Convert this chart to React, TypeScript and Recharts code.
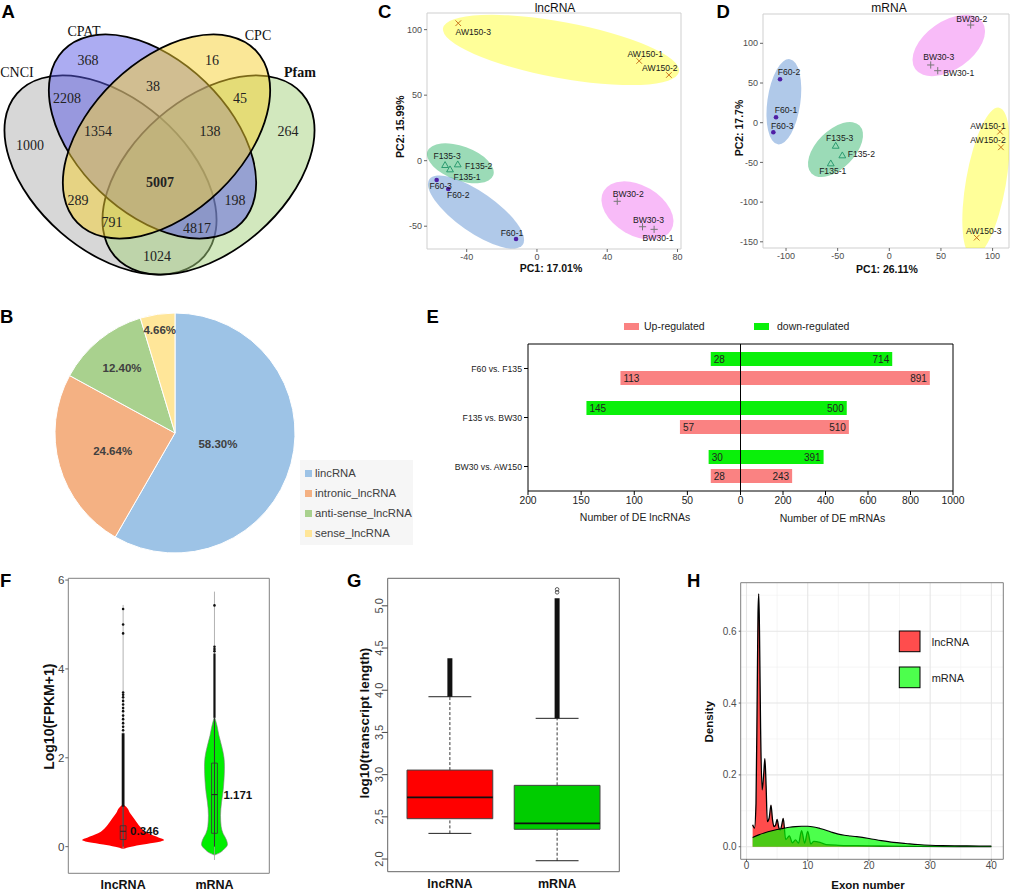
import React from 'react';
import {
  ScatterChart, Scatter, XAxis, YAxis, PieChart, Pie, Cell, Legend,
  BarChart, Bar, LabelList, ReferenceArea, ReferenceLine, ComposedChart, Area, Line, CartesianGrid,
} from 'recharts';

const SANS = '"Liberation Sans", Arial, Helvetica, sans-serif';
const SERIF = '"Liberation Serif", "Times New Roman", serif';

// ============================================================================
// Data
// ============================================================================

// A. Venn of coding-potential tools
const VENN_SETS = ['CNCI', 'CPAT', 'CPC', 'Pfam'];
const VENN_REGIONS = [
  'CPAT', 'CPC', 'CNCI&CPAT', 'CPAT&CPC', 'CPC&Pfam', 'CNCI', 'CNCI&CPAT&CPC', 'CPAT&CPC&Pfam',
  'Pfam', 'all', 'CNCI&CPC', 'CPAT&Pfam', 'CNCI&CPC&Pfam', 'CNCI&CPAT&Pfam', 'CNCI&Pfam',
];
const VENN_COUNTS = [368, 16, 2208, 38, 45, 1000, 1354, 138, 264, 5007, 289, 198, 791, 4817, 1024];

// B. lncRNA classes
const PIE_LABELS = ['lincRNA', 'intronic_lncRNA', 'anti-sense_lncRNA', 'sense_lncRNA'];
const PIE_VALUES = [58.30, 24.64, 12.40, 4.66];

// C / D. PCA
const PCA_GROUPS = ['F60', 'F135', 'BW30', 'AW150'];
const PCA_SAMPLES = ['F60-1', 'F60-2', 'F60-3', 'F135-1', 'F135-2', 'F135-3', 'BW30-1', 'BW30-2', 'BW30-3', 'AW150-1', 'AW150-2', 'AW150-3'];
const LNC_PC1 = [-11.9, -50.5, -57.1, -49.5, -45.1, -52.3, 66.7, 45.7, 60.1, 58.2, 75.1, -44.8];
const LNC_PC2 = [-59.8, -21.6, -14.7, -6.6, -2.8, -3.3, -52.4, -31.0, -50.4, 76.1, 65.4, 104.9];
const MRNA_PC1 = [-109.7, -105.8, -112.3, -56.7, -45.5, -51.9, 46.9, 78.8, 40.1, 107.2, 108.1, 84.6];
const MRNA_PC2 = [6.8, 54.7, -12.1, -51.2, -41.1, -29.0, 65.5, 123.0, 72.7, -11.3, -31.0, -144.8];
// ellipse centres per group (PC units)
const LNC_ELL_PC1 = [-34.7, -43.6, 57.2, 13.7];
const LNC_ELL_PC2 = [-39.2, -2.0, -38.0, 84.5];
const MRNA_ELL_PC1 = [-102.1, -52.1, 57.6, 93.6];
const MRNA_ELL_PC2 = [26.4, -33.8, 97.2, -74.7];

// E. DE counts
const DE_COMPARISONS = ['F60 vs. F135', 'F135 vs. BW30', 'BW30 vs. AW150'];
const DE_LNC_DOWN = [28, 145, 30];
const DE_LNC_UP = [113, 57, 28];
const DE_M_DOWN = [714, 500, 391];
const DE_M_UP = [891, 510, 243];
const LNC_MAX = 200;
const M_MAX = 1000;
const E_LNC_TICKS = [200, 150, 100, 50];
const E_M_TICKS = [0, 200, 400, 600, 800, 1000];

// F. expression violins
const F_CATEGORIES = ['lncRNA', 'mRNA'];
const F_LNC_VIOLIN_V = [-0.05, 0, 0.05, 0.1, 0.15, 0.2, 0.3, 0.45, 0.6, 0.75, 0.9, 0.95];
const F_LNC_VIOLIN_W = [0, 0.088, 0.219, 0.372, 0.449, 0.394, 0.274, 0.186, 0.131, 0.077, 0.033, 0];
const F_M_VIOLIN_V = [-0.19, -0.14, -0.05, 0.05, 0.15, 0.3, 0.45, 0.7, 1.0, 1.2, 1.5, 1.8, 2.0, 2.25, 2.5, 2.7, 2.93];
const F_M_VIOLIN_W = [0, 0.055, 0.109, 0.142, 0.131, 0.093, 0.073, 0.066, 0.077, 0.091, 0.104, 0.109, 0.104, 0.08, 0.049, 0.03, 0];
const F_Q1 = [0.16, 0.3];
const F_Q3 = [0.47, 1.88];
const F_MEDIAN = [0.346, 1.171];
const F_MIN = [-0.05, -0.3];
const F_MAX = [5.44, 5.74];
const F_WHISK_HI = [0.9, 2.9];
const F_OUT_TOP = [2.55, 4.35];
const F_LNC_OUTLIERS = [2.62, 2.7, 2.78, 2.87, 2.95, 3.05, 3.12, 3.2, 3.28, 3.36, 3.42, 3.47, 4.8, 5.0, 5.35];
const F_M_OUTLIERS = [4.4, 4.45, 4.5, 5.43];

// G. transcript length boxplots
const G_CATEGORIES = ['lncRNA', 'mRNA'];
const G_Q1 = [2.478, 2.352];
const G_MEDIAN = [2.731, 2.423];
const G_Q3 = [3.054, 2.873];
const G_WHISK_LO = [2.304, 1.98];
const G_WHISK_HI = [3.923, 3.667];
const G_OUT_TOP = [4.378, 5.09];
const G_M_EXTREMES = [5.16, 5.195];

// H. exon number density
const H_LNC_X = [1, 1.3, 1.55, 1.75, 1.88, 2, 2.12, 2.3, 2.55, 2.8, 3, 3.2, 3.4, 3.7, 4, 4.25, 4.5, 4.75, 5, 5.25, 5.5, 5.75, 6, 6.4, 7, 7.5, 8, 8.5, 9, 9.5, 10, 10.5, 11, 12, 13, 15, 18, 22, 28, 35, 40];
const H_LNC_Y = [0.061, 0.052, 0.12, 0.43, 0.65, 0.704, 0.6, 0.33, 0.158, 0.2, 0.245, 0.17, 0.07, 0.08, 0.116, 0.075, 0.056, 0.06, 0.076, 0.055, 0.046, 0.06, 0.079, 0.02, 0.03, 0.011, 0.019, 0.01, 0.045, 0.01, 0.043, 0.008, 0.015, 0.012, 0.006, 0.004, 0.003, 0.002, 0.001, 0.0005, 0.0003];
const H_M_X = [1, 2, 3, 4, 5, 6, 7, 8, 9, 10, 11, 12, 13, 14, 15, 16, 17, 18, 20, 22, 24, 26, 28, 30, 32, 35, 38, 40];
const H_M_Y = [0.026, 0.033, 0.039, 0.044, 0.048, 0.051, 0.054, 0.056, 0.057, 0.057, 0.055, 0.051, 0.046, 0.04, 0.035, 0.032, 0.03, 0.028, 0.023, 0.017, 0.012, 0.009, 0.006, 0.004, 0.003, 0.0025, 0.002, 0.002];

// ============================================================================
// Layout / style (pixels)
// ============================================================================

// Venn frame is 320x280 px, same units as the chart.
const VENN_ELLIPSES = [
  { cx: 110.5, cy: 175, rx: 124, ry: 76, rot: 41, fill: '#b0b0b0' },
  { cx: 152.5, cy: 136.5, rx: 124, ry: 76, rot: 44, fill: '#5a5ae6' },
  { cx: 166.5, cy: 136.5, rx: 124, ry: 76, rot: -44, fill: '#f5cf30' },
  { cx: 208.5, cy: 175, rx: 124, ry: 76, rot: -41, fill: '#a5d17d' },
];
const VENN_DRAW_ORDER = [0, 3, 1, 2];
const VENN_SET_XY = [[17, 72], [84, 31], [258, 35], [300, 72]];
const VENN_LABEL_XY = [[88, 60], [212, 60], [67, 98], [153, 86], [240, 98], [30, 145], [98, 131], [210, 131], [288, 131], [160, 182], [78, 200], [235, 200], [112, 222], [197, 228], [157, 256]];

const PIE_COLORS = ['#9dc3e6', '#f4b183', '#a9d18e', '#ffe699'];
const PIE_LABEL_RADIUS = [0.37, 0.54, 0.7, 0.87];

const GROUP_MARK = ['#4f1fa5', '#2b9b70', '#777777', '#c8741c'];
const GROUP_FILL = ['#3a78c8', '#22b060', '#ee55ee', '#ffff00'];
const GROUP_FILL_OP = [0.4, 0.45, 0.4, 0.4];
// [rx, ry, rotation] in px
const LNC_ELL_SIZE = [[57, 20, 35], [35, 17, 20], [39, 25, 30], [120, 28, 10.5]];
const MRNA_ELL_SIZE = [[43, 16.5, -82], [34, 19, -45], [41, 24, -35], [75.5, 20, -80]];
const LNC_LABEL_OFF = [[-4, -6], [10, 6], [4, 6], [17, 8], [21, 2], [2, -9], [4, 9], [11, -7], [6, -7], [6, -7], [-9, -7], [15, 9]];
const MRNA_LABEL_OFF = [[10, -7], [9, -7], [9, -6], [2, 8], [19, -1], [4, -8], [21, 2], [1, -6], [8, -8], [-12, -6], [-13, -7], [7, -7]];

const DE_GREEN = '#0af00a';
const DE_PINK = '#fa8282';

// ============================================================================
// A. Venn
// ============================================================================

const vennShapes = VENN_DRAW_ORDER.map((i) => ({ x: VENN_ELLIPSES[i].cx, y: VENN_ELLIPSES[i].cy, i }));
const vennSetLabels = VENN_SETS.map((name, i) => ({ x: VENN_SET_XY[i][0], y: VENN_SET_XY[i][1], name }));
const vennCounts = VENN_REGIONS.map((region, i) => ({ x: VENN_LABEL_XY[i][0], y: VENN_LABEL_XY[i][1], region, count: VENN_COUNTS[i] }));

const VennEllipse = (p: any) => {
  const e = VENN_ELLIPSES[p.payload.i];
  return (
    <ellipse cx={p.cx} cy={p.cy} rx={e.rx} ry={e.ry} transform={`rotate(${e.rot} ${p.cx} ${p.cy})`}
      fill={e.fill} fillOpacity={0.5} stroke="#000" strokeWidth={1.8} />
  );
};

const VennSetText = (p: any) => (
  <text x={p.cx} y={p.cy} textAnchor="middle" dominantBaseline="central" fontFamily={SERIF} fontSize={14}
    fontWeight={p.payload.name === 'Pfam' ? 'bold' : 'normal'} fill="#111">{p.payload.name}</text>
);

const VennCountText = (p: any) => (
  <text x={p.cx} y={p.cy} textAnchor="middle" dominantBaseline="central" fontFamily={SERIF} fontSize={14}
    fontWeight={p.payload.region === 'all' ? 'bold' : 'normal'} fill="#222">{p.payload.count}</text>
);

function VennPanel() {
  return (
    <ScatterChart width={320} height={280} margin={{ top: 0, right: 0, bottom: 0, left: 0 }}>
      <XAxis type="number" dataKey="x" domain={[0, 320]} allowDataOverflow hide />
      <YAxis type="number" dataKey="y" domain={[0, 280]} allowDataOverflow reversed hide />
      <Scatter data={vennShapes} shape={VennEllipse} isAnimationActive={false} />
      <Scatter data={vennCounts} shape={VennCountText} isAnimationActive={false} />
      <Scatter data={vennSetLabels} shape={VennSetText} isAnimationActive={false} />
    </ScatterChart>
  );
}

// ============================================================================
// B. Pie
// ============================================================================

const pieData = PIE_LABELS.map((name, i) => ({ name, value: PIE_VALUES[i] }));

const renderPieLabel = (p: any) => {
  const RAD = Math.PI / 180;
  const r = p.outerRadius * PIE_LABEL_RADIUS[p.index];
  const x = p.cx + r * Math.cos(-p.midAngle * RAD);
  const y = p.cy + r * Math.sin(-p.midAngle * RAD);
  return (
    <text x={x} y={y} textAnchor="middle" dominantBaseline="central" fontSize={11.5} fontWeight="bold"
      fill="#404040" fontFamily={SANS}>{PIE_VALUES[p.index].toFixed(2)}%</text>
  );
};

// keep the legend in data order (Legend sorts its payload by default)
const PieLegend = () => (
  <div style={{ background: '#f6f6f6', width: 113, height: 85, boxSizing: 'border-box', paddingTop: 3, paddingLeft: 5 }}>
    {PIE_LABELS.map((name, i) => (
      <div key={name} style={{ display: 'flex', alignItems: 'center', height: 20, fontFamily: SANS, fontSize: 11.3, color: '#404040', whiteSpace: 'nowrap' }}>
        <span style={{ width: 7, height: 7, background: PIE_COLORS[i], marginRight: 3, flex: 'none' }} />
        {name}
      </div>
    ))}
  </div>
);

function PiePanel() {
  return (
    <PieChart width={440} height={270}>
      <Pie data={pieData} dataKey="value" nameKey="name" cx={170} cy={138} outerRadius={120}
        startAngle={90} endAngle={-270} stroke="#ffffff" strokeWidth={1}
        label={renderPieLabel} labelLine={false} isAnimationActive={false}>
        {pieData.map((d, i) => <Cell key={d.name} fill={PIE_COLORS[i]} />)}
      </Pie>
      <Legend content={PieLegend} wrapperStyle={{ left: 300, top: 170, width: 113, height: 85 }} />
    </PieChart>
  );
}

// ============================================================================
// C / D. PCA
// ============================================================================

const groupOf = (name: string) => PCA_GROUPS.indexOf(name.split('-')[0]);

const PcaMarker = (p: any) => {
  const { cx, cy, payload } = p;
  const g = payload.g;
  const c = GROUP_MARK[g];
  let mark;
  if (g === 0) mark = <circle cx={cx} cy={cy} r={2.3} fill={c} />;
  else if (g === 1) mark = <path d={`M${cx},${cy - 3.4}L${cx + 3.4},${cy + 2.5}L${cx - 3.4},${cy + 2.5}Z`} fill="none" stroke={c} strokeWidth={1} />;
  else if (g === 2) mark = <path d={`M${cx - 3.6},${cy}H${cx + 3.6}M${cx},${cy - 3.6}V${cy + 3.6}`} stroke={c} strokeWidth={1} />;
  else mark = <path d={`M${cx - 2.8},${cy - 2.8}L${cx + 2.8},${cy + 2.8}M${cx - 2.8},${cy + 2.8}L${cx + 2.8},${cy - 2.8}`} stroke={c} strokeWidth={1} />;
  return (
    <g>
      {mark}
      <text x={cx + payload.off[0]} y={cy + payload.off[1]} textAnchor="middle" dominantBaseline="central"
        fontSize={8.6} fill="#1a1a1a" fontFamily={SANS}>{payload.name}</text>
    </g>
  );
};

const PcaEllipse = (p: any) => {
  const [rx, ry, rot] = p.payload.size;
  return (
    <ellipse cx={p.cx} cy={p.cy} rx={rx} ry={ry} transform={`rotate(${rot} ${p.cx} ${p.cy})`}
      fill={GROUP_FILL[p.payload.g]} fillOpacity={GROUP_FILL_OP[p.payload.g]} stroke="none" />
  );
};

type PcaCfg = {
  width: number; height: number; margin: any;
  xDomain: number[]; yDomain: number[]; xTicks: number[]; yTicks: number[];
  pc1: number[]; pc2: number[]; off: number[][];
  ellPc1: number[]; ellPc2: number[]; ellSize: number[][];
};

function PcaPanel({ cfg }: { cfg: PcaCfg }) {
  const points = PCA_SAMPLES.map((name, i) => ({ name, g: groupOf(name), x: cfg.pc1[i], y: cfg.pc2[i], off: cfg.off[i] }));
  const ellipses = PCA_GROUPS.map((grp, g) => ({ grp, g, x: cfg.ellPc1[g], y: cfg.ellPc2[g], size: cfg.ellSize[g] }));
  const tick = { fontSize: 9, fill: '#4d4d4d', fontFamily: SANS };
  return (
    <ScatterChart width={cfg.width} height={cfg.height} margin={cfg.margin}>
      <XAxis type="number" dataKey="x" domain={cfg.xDomain} ticks={cfg.xTicks} allowDataOverflow height={20}
        tick={tick} tickSize={3} tickMargin={2} axisLine={false} tickLine={{ stroke: '#666' }} />
      <YAxis type="number" dataKey="y" domain={cfg.yDomain} ticks={cfg.yTicks} allowDataOverflow width={30}
        tick={tick} tickSize={3} tickMargin={2} axisLine={false} tickLine={{ stroke: '#666' }} />
      <ReferenceArea x1={cfg.xDomain[0]} x2={cfg.xDomain[1]} y1={cfg.yDomain[0]} y2={cfg.yDomain[1]}
        fill="none" stroke="#cfcfcf" strokeWidth={1} ifOverflow="visible" />
      <Scatter data={ellipses} shape={PcaEllipse} isAnimationActive={false} />
      <Scatter data={points} shape={PcaMarker} isAnimationActive={false} />
    </ScatterChart>
  );
}

const LNC_CFG: PcaCfg = {
  width: 355, height: 290, margin: { top: 13, right: 4, bottom: 21, left: 67 },
  xDomain: [-62.6, 82], yDomain: [-67.4, 112.7], xTicks: [-40, 0, 40, 80], yTicks: [-50, 0, 50, 100],
  pc1: LNC_PC1, pc2: LNC_PC2, off: LNC_LABEL_OFF, ellPc1: LNC_ELL_PC1, ellPc2: LNC_ELL_PC2, ellSize: LNC_ELL_SIZE,
};
const MRNA_CFG: PcaCfg = {
  width: 337, height: 290, margin: { top: 14, right: 8, bottom: 22, left: 53 },
  xDomain: [-122.3, 115.9], yDomain: [-157.8, 136.9], xTicks: [-100, -50, 0, 50, 100], yTicks: [-150, -100, -50, 0, 50, 100],
  pc1: MRNA_PC1, pc2: MRNA_PC2, off: MRNA_LABEL_OFF, ellPc1: MRNA_ELL_PC1, ellPc2: MRNA_ELL_PC2, ellSize: MRNA_ELL_SIZE,
};

// ============================================================================
// E. DE bars (lncRNA to the left on its own scale, mRNA to the right)
// ============================================================================

const E_SCALE = M_MAX / LNC_MAX;
const deData = DE_COMPARISONS.map((name, i) => ({
  name, lncDown: -DE_LNC_DOWN[i], lncUp: -DE_LNC_UP[i], mDown: DE_M_DOWN[i], mUp: DE_M_UP[i],
}));
const eTicks = [...E_LNC_TICKS.map((t) => -t * E_SCALE), ...E_M_TICKS];

const LeftEndLabel = (p: any) => (
  <text x={Math.min(p.x, p.x + p.width) + 3} y={p.y + p.height / 2 + 0.5} dominantBaseline="central"
    fontSize={10} fill="#222" fontFamily={SANS}>{Math.abs(p.value)}</text>
);
const RightEndLabel = (p: any) => (
  <text x={Math.max(p.x, p.x + p.width) - 3} y={p.y + p.height / 2 + 0.5} dominantBaseline="central" textAnchor="end"
    fontSize={10} fill="#222" fontFamily={SANS}>{p.value}</text>
);
const ECategoryTick = (p: any) => (
  <text x={p.x} y={p.y} textAnchor="end" dominantBaseline="central" fontSize={8.7} fill="#222" fontFamily={SANS}>{p.payload.value}</text>
);

function DePanel() {
  return (
    <BarChart layout="vertical" width={577} height={260} data={deData}
      margin={{ top: 44, right: 64, bottom: 39, left: 8 }} barSize={14} barGap={5}>
      <XAxis xAxisId="m" type="number" domain={[-M_MAX, M_MAX]} ticks={eTicks} allowDataOverflow height={30}
        tickFormatter={(v: number) => (v < 0 ? String(Math.round(-v / E_SCALE)) : String(v))}
        tick={{ fontSize: 10.3, fill: '#222', fontFamily: SANS }} tickSize={4} tickMargin={2}
        axisLine={false} tickLine={{ stroke: '#000' }} />
      <XAxis xAxisId="l" type="number" domain={[-LNC_MAX, LNC_MAX]} allowDataOverflow hide height={0} />
      <YAxis yAxisId="m" type="category" dataKey="name" width={80} tick={ECategoryTick} tickSize={4} tickMargin={2}
        axisLine={false} tickLine={{ stroke: '#000' }} />
      <YAxis yAxisId="l" type="category" dataKey="name" hide width={0} />
      <Bar xAxisId="l" yAxisId="l" dataKey="lncDown" fill={DE_GREEN} isAnimationActive={false}>
        <LabelList dataKey="lncDown" content={LeftEndLabel} />
      </Bar>
      <Bar xAxisId="l" yAxisId="l" dataKey="lncUp" fill={DE_PINK} isAnimationActive={false}>
        <LabelList dataKey="lncUp" content={LeftEndLabel} />
      </Bar>
      <Bar xAxisId="m" yAxisId="m" dataKey="mDown" fill={DE_GREEN} isAnimationActive={false}>
        <LabelList dataKey="mDown" content={RightEndLabel} />
      </Bar>
      <Bar xAxisId="m" yAxisId="m" dataKey="mUp" fill={DE_PINK} isAnimationActive={false}>
        <LabelList dataKey="mUp" content={RightEndLabel} />
      </Bar>
      <ReferenceArea xAxisId="m" yAxisId="m" x1={-M_MAX} x2={M_MAX} fill="none" stroke="#000" strokeWidth={1} ifOverflow="visible" />
      <ReferenceLine xAxisId="m" yAxisId="m" x={0} stroke="#000" strokeWidth={1} />
    </BarChart>
  );
}

// ============================================================================
// F. Violins (vertical layout: y = log10 FPKM, x = category position)
// ============================================================================

const F_BOX_HALF = 0.032;
const violin = (vals: number[], widths: number[], pos: number) => vals.map((v, i) => ({ v, r: [pos - widths[i], pos + widths[i]] }));
const vSeg = (pos: number, a: number, b: number) => [{ pos, v: a }, { pos, v: b }];
const boxOutline = (pos: number, half: number, lo: number, hi: number) => [
  { pos: pos - half, v: lo }, { pos: pos - half, v: hi }, { pos: pos + half, v: hi }, { pos: pos + half, v: lo }, { pos: pos - half, v: lo },
];

const FOutlier = (p: any) => <circle cx={p.cx} cy={p.cy} r={1.3} fill="#111" />;
const FMedianLabel = (p: any) => (
  <text x={p.cx + (p.payload.pos === 1 ? 7 : 9)} y={p.cy} dominantBaseline="central" fontSize={11.5} fontWeight="bold"
    fill="#111" fontFamily={SANS}>{p.payload.label}</text>
);

function ViolinPanel() {
  const lncV = violin(F_LNC_VIOLIN_V, F_LNC_VIOLIN_W, 1);
  const mV = violin(F_M_VIOLIN_V, F_M_VIOLIN_W, 2);
  const outliers = [
    ...F_LNC_OUTLIERS.map((v) => ({ pos: 1, v })),
    ...F_M_OUTLIERS.map((v) => ({ pos: 2, v })),
  ];
  const medLabels = F_MEDIAN.map((v, i) => ({ pos: i + 1, v, label: v.toFixed(3) }));
  return (
    <ComposedChart layout="vertical" width={340} height={333} margin={{ top: 18.3, right: 70.7, bottom: 1.7, left: 48.3 }}>
      <XAxis type="number" dataKey="pos" domain={[0.4, 2.6]} ticks={[1, 2]} allowDataOverflow height={18}
        tickFormatter={(v: number) => F_CATEGORIES[v - 1]} tickLine={false} axisLine={false} tickSize={0} tickMargin={7}
        tick={{ fontSize: 12.5, fontWeight: 'bold', fill: '#111', fontFamily: SANS }} />
      <YAxis type="number" dataKey="v" domain={[-0.6, 6.04]} ticks={[0, 2, 4, 6]} allowDataOverflow reversed width={20}
        tickSize={3} tickMargin={1} axisLine={false} tickLine={{ stroke: '#666' }}
        tick={{ fontSize: 11.5, fill: '#444', fontFamily: SANS }} />
      <ReferenceArea x1={0.4} x2={2.6} y1={-0.6} y2={6.04} fill="none" stroke="#808080" ifOverflow="visible" />
      <Area data={lncV} dataKey="r" type="monotone" fill="#ff0000" fillOpacity={1} stroke="none" isAnimationActive={false} />
      <Area data={mV} dataKey="r" type="monotone" fill="#00ee00" fillOpacity={1} stroke="#7a7a7a" strokeWidth={0.6} isAnimationActive={false} />
      {F_CATEGORIES.map((c, i) => (
        <Line key={`tail-${c}`} data={vSeg(i + 1, F_MIN[i], F_MAX[i])} dataKey="pos" stroke="#a0a0a0" strokeWidth={0.8} dot={false} isAnimationActive={false} />
      ))}
      {F_CATEGORIES.map((c, i) => (
        <Line key={`wh-${c}`} data={vSeg(i + 1, 0, F_WHISK_HI[i])} dataKey="pos" stroke="#333" strokeWidth={1} dot={false} isAnimationActive={false} />
      ))}
      {F_CATEGORIES.map((c, i) => (
        <Line key={`band-${c}`} data={vSeg(i + 1, F_WHISK_HI[i], F_OUT_TOP[i])} dataKey="pos" stroke="#111" strokeWidth={i === 0 ? 2.8 : 2.2} dot={false} isAnimationActive={false} />
      ))}
      {F_CATEGORIES.map((c, i) => (
        <Line key={`box-${c}`} data={boxOutline(i + 1, F_BOX_HALF, F_Q1[i], F_Q3[i])} dataKey="pos" stroke="#333" strokeWidth={0.8} dot={false} isAnimationActive={false} />
      ))}
      {F_CATEGORIES.map((c, i) => (
        <Line key={`med-${c}`} data={[{ pos: i + 1 - F_BOX_HALF, v: F_MEDIAN[i] }, { pos: i + 1 + F_BOX_HALF, v: F_MEDIAN[i] }]} dataKey="pos" stroke="#222" strokeWidth={1} dot={false} isAnimationActive={false} />
      ))}
      <Scatter data={outliers} shape={FOutlier} isAnimationActive={false} />
      <Scatter data={medLabels} shape={FMedianLabel} isAnimationActive={false} />
    </ComposedChart>
  );
}

// ============================================================================
// G. Boxplots
// ============================================================================

const G_BOX_HALF = 0.4;
const G_CAP_HALF = 0.2;
const hSeg = (a: number, b: number, v: number) => [{ pos: a, v }, { pos: b, v }];

const GTick = (p: any) => (
  <text x={p.x + 2.5} y={p.y} transform={`rotate(-90 ${p.x + 2.5} ${p.y})`} textAnchor="middle" fontSize={11}
    fill="#444" fontFamily={SANS}>{Number(p.payload.value).toFixed(1)}</text>
);
const GExtreme = (p: any) => <circle cx={p.cx} cy={p.cy} r={1.8} fill="none" stroke="#333" strokeWidth={0.8} />;

function BoxPanel() {
  const fills = ['#ff0000', '#00cc00'];
  return (
    <ComposedChart width={340} height={333} margin={{ top: 18.3, right: 60.7, bottom: 3.3, left: 22.7 }}>
      <XAxis type="number" dataKey="pos" domain={[0.42, 2.58]} ticks={[1, 2]} allowDataOverflow height={18}
        tickFormatter={(v: number) => G_CATEGORIES[v - 1]} tickLine={false} axisLine={false} tickSize={0} tickMargin={7}
        tick={{ fontSize: 12.5, fontWeight: 'bold', fill: '#111', fontFamily: SANS }} />
      <YAxis type="number" dataKey="v" domain={[1.85, 5.326]} ticks={[2, 2.5, 3, 3.5, 4, 4.5, 5]} allowDataOverflow width={25}
        tickSize={5} tickMargin={2} axisLine={false} tickLine={{ stroke: '#444' }} tick={GTick} />
      {G_CATEGORIES.map((c, i) => (
        <Area key={`fill-${c}`} data={[{ pos: i + 1 - G_BOX_HALF, r: [G_Q1[i], G_Q3[i]] }, { pos: i + 1 + G_BOX_HALF, r: [G_Q1[i], G_Q3[i]] }]}
          dataKey="r" type="linear" fill={fills[i]} fillOpacity={1} stroke="none" isAnimationActive={false} />
      ))}
      {G_CATEGORIES.map((c, i) => (
        <Line key={`up-${c}`} data={[{ pos: i + 1, v: G_Q3[i] }, { pos: i + 1, v: G_WHISK_HI[i] }]} dataKey="v" stroke="#222" strokeWidth={0.9} strokeDasharray="3 2" dot={false} isAnimationActive={false} />
      ))}
      {G_CATEGORIES.map((c, i) => (
        <Line key={`lo-${c}`} data={[{ pos: i + 1, v: G_WHISK_LO[i] }, { pos: i + 1, v: G_Q1[i] }]} dataKey="v" stroke="#222" strokeWidth={0.9} strokeDasharray="3 2" dot={false} isAnimationActive={false} />
      ))}
      {G_CATEGORIES.map((c, i) => (
        <Line key={`caphi-${c}`} data={hSeg(i + 1 - G_CAP_HALF, i + 1 + G_CAP_HALF, G_WHISK_HI[i])} dataKey="v" stroke="#222" strokeWidth={1} dot={false} isAnimationActive={false} />
      ))}
      {G_CATEGORIES.map((c, i) => (
        <Line key={`caplo-${c}`} data={hSeg(i + 1 - G_CAP_HALF, i + 1 + G_CAP_HALF, G_WHISK_LO[i])} dataKey="v" stroke="#222" strokeWidth={1} dot={false} isAnimationActive={false} />
      ))}
      {G_CATEGORIES.map((c, i) => (
        <Line key={`box-${c}`} data={boxOutline(i + 1, G_BOX_HALF, G_Q1[i], G_Q3[i])} dataKey="v" stroke="#444" strokeWidth={1} dot={false} isAnimationActive={false} />
      ))}
      {G_CATEGORIES.map((c, i) => (
        <Line key={`med-${c}`} data={hSeg(i + 1 - G_BOX_HALF, i + 1 + G_BOX_HALF, G_MEDIAN[i])} dataKey="v" stroke="#111" strokeWidth={1.8} dot={false} isAnimationActive={false} />
      ))}
      {G_CATEGORIES.map((c, i) => (
        <Line key={`out-${c}`} data={[{ pos: i + 1, v: G_WHISK_HI[i] }, { pos: i + 1, v: G_OUT_TOP[i] }]} dataKey="v" stroke="#111" strokeWidth={5} dot={false} isAnimationActive={false} />
      ))}
      <Scatter data={G_M_EXTREMES.map((v) => ({ pos: 2, v }))} shape={GExtreme} isAnimationActive={false} />
      <ReferenceArea x1={0.42} x2={2.58} y1={1.85} y2={5.326} fill="none" stroke="#666" ifOverflow="visible" />
    </ComposedChart>
  );
}

// ============================================================================
// H. Density
// ============================================================================

const hLnc = H_LNC_X.map((x, i) => ({ x, y: H_LNC_Y[i] }));
const hM = H_M_X.map((x, i) => ({ x, y: H_M_Y[i] }));

function DensityPanel() {
  const tick = { fontSize: 10, fill: '#4d4d4d', fontFamily: SANS };
  return (
    <ComposedChart width={337} height={333} margin={{ top: 22.7, right: 13.7, bottom: 13.7, left: 30.7 }}>
      <CartesianGrid verticalValues={[5, 15, 25, 35]} horizontalValues={[0.1, 0.3, 0.5, 0.7]} stroke="#f0f0f0" strokeWidth={0.6} />
      <CartesianGrid verticalValues={[0, 10, 20, 30, 40]} horizontalValues={[0, 0.2, 0.4, 0.6]} stroke="#e6e6e6" strokeWidth={1.1} />
      <XAxis type="number" dataKey="x" domain={[-0.95, 41.95]} ticks={[0, 10, 20, 30, 40]} allowDataOverflow height={20}
        tick={tick} tickSize={2} tickMargin={1} axisLine={false} tickLine={{ stroke: '#666' }} />
      <YAxis type="number" domain={[-0.035, 0.735]} ticks={[0, 0.2, 0.4, 0.6]} allowDataOverflow width={30}
        tickFormatter={(v: number) => v.toFixed(1)} tick={tick} tickSize={2} tickMargin={2} axisLine={false} tickLine={{ stroke: '#666' }} />
      <Area data={hLnc} dataKey="y" type="monotone" fill="#ff0000" fillOpacity={0.7} stroke="#000" strokeWidth={1.3} isAnimationActive={false} />
      <Area data={hM} dataKey="y" type="monotone" fill="#00ff00" fillOpacity={0.7} stroke="#000" strokeWidth={1.1} isAnimationActive={false} />
      <ReferenceArea x1={-0.95} x2={41.95} y1={-0.035} y2={0.735} fill="none" stroke="#7f7f7f" ifOverflow="visible" />
    </ComposedChart>
  );
}

// ============================================================================
// Free text: panel letters, titles, axis titles, legends
// ============================================================================

const PANEL_LETTERS: [string, number, number][] = [
  ['A', 1.5, 18.3], ['B', 0, 323.3], ['C', 378, 18.3], ['D', 716.5, 17.5],
  ['E', 426.5, 323.3], ['F', 0, 586.7], ['G', 347, 587], ['H', 687, 586.7],
];

const Rot = ({ x, y, size, children }: any) => (
  <text x={x} y={y} transform={`rotate(-90 ${x} ${y})`} textAnchor="middle" fontSize={size} fontWeight="bold" fill="#111">{children}</text>
);

function Overlay() {
  return (
    <svg width={1017} height={893} fontFamily={SANS} style={{ position: 'absolute', left: 0, top: 0, pointerEvents: 'none' }}>
      {PANEL_LETTERS.map(([t, x, y]) => (
        <text key={t} x={x} y={y} fontSize={18.5} fontWeight="bold" fill="#000">{t}</text>
      ))}
      {/* C */}
      <text x={555} y={11.5} textAnchor="middle" fontSize={12} fill="#111">lncRNA</text>
      <text x={551} y={271.5} textAnchor="middle" fontSize={10.5} fontWeight="bold" fill="#111">PC1: 17.01%</text>
      <Rot x={404.5} y={126.7} size={10.5}>PC2: 15.99%</Rot>
      {/* D */}
      <text x={889} y={11.7} textAnchor="middle" fontSize={12} fill="#111">mRNA</text>
      <text x={887} y={273} textAnchor="middle" fontSize={10.5} fontWeight="bold" fill="#111">PC1: 26.11%</text>
      <Rot x={743} y={128} size={10.5}>PC2: 17.7%</Rot>
      {/* E */}
      <rect x={624} y={323} width={15} height={7} fill={DE_PINK} />
      <text x={644} y={330} fontSize={10.5} fill="#222">Up-regulated</text>
      <rect x={754} y={323} width={15} height={7} fill={DE_GREEN} />
      <text x={777} y={330} fontSize={10.5} fill="#222">down-regulated</text>
      <text x={635} y={521} textAnchor="middle" fontSize={10.5} fill="#222">Number of DE lncRNAs</text>
      <text x={832.5} y={521.5} textAnchor="middle" fontSize={10.5} fill="#222">Number of DE mRNAs</text>
      {/* F */}
      <Rot x={54} y={716.7} size={14}>Log10(FPKM+1)</Rot>
      {/* G */}
      <Rot x={369} y={723} size={13.5}>log10(transcript length)</Rot>
      {/* H */}
      <Rot x={713} y={721.7} size={11.5}>Density</Rot>
      <text x={868} y={889} textAnchor="middle" fontSize={11.5} fontWeight="bold" fill="#111">Exon number</text>
      <rect x={899.3} y={631} width={20.7} height={20.7} fill="#ff4d4d" stroke="#000" strokeWidth={1} />
      <text x={931.7} y={641.7} dominantBaseline="central" fontSize={11} fill="#222">lncRNA</text>
      <rect x={899.3} y={667} width={20.7} height={20.7} fill="#4dff4d" stroke="#000" strokeWidth={1} />
      <text x={931.7} y={678} dominantBaseline="central" fontSize={11} fill="#222">mRNA</text>
    </svg>
  );
}

const Place = ({ x, y, children }: any) => (
  <div style={{ position: 'absolute', left: x, top: y }}>{children}</div>
);

export default function App() {
  return (
    <div style={{ position: 'absolute', left: 0, top: 0, width: 1017, height: 893, background: '#fff', overflow: 'hidden' }}>
      <Place x={0} y={0}><VennPanel /></Place>
      <Place x={0} y={290}><PiePanel /></Place>
      <Place x={330} y={0}><PcaPanel cfg={LNC_CFG} /></Place>
      <Place x={680} y={0}><PcaPanel cfg={MRNA_CFG} /></Place>
      <Place x={440} y={300}><DePanel /></Place>
      <Place x={0} y={560}><ViolinPanel /></Place>
      <Place x={340} y={560}><BoxPanel /></Place>
      <Place x={680} y={560}><DensityPanel /></Place>
      <Overlay />
    </div>
  );
}
